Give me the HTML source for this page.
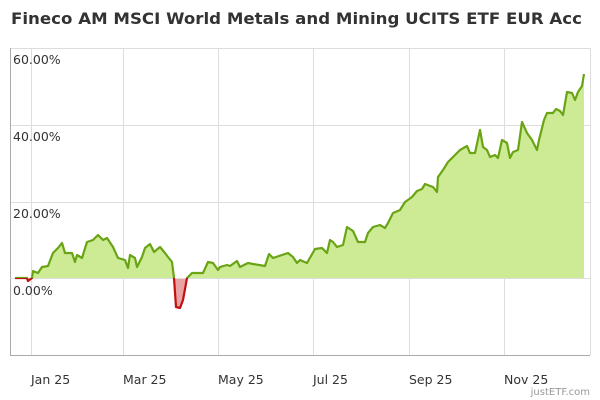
<!DOCTYPE html>
<html><head><meta charset="utf-8"><style>
html,body{margin:0;padding:0;background:#fff;}
svg{display:block;font-family:"DejaVu Sans","Liberation Sans",sans-serif;}
</style></head><body>
<svg width="600" height="400" viewBox="0 0 600 400">
<text x="11" y="24" font-size="16" font-weight="bold" fill="#333" textLength="571" lengthAdjust="spacingAndGlyphs">Fineco AM MSCI World Metals and Mining UCITS ETF EUR Acc</text>
<g stroke="#ddd" stroke-width="1">
<line x1="10" y1="48.5" x2="590" y2="48.5"/>
<line x1="10" y1="125.5" x2="590" y2="125.5"/>
<line x1="10" y1="202.5" x2="590" y2="202.5"/>
<line x1="31.5" y1="48" x2="31.5" y2="355"/>
<line x1="123.5" y1="48" x2="123.5" y2="355"/>
<line x1="218.5" y1="48" x2="218.5" y2="355"/>
<line x1="313.5" y1="48" x2="313.5" y2="355"/>
<line x1="409.5" y1="48" x2="409.5" y2="355"/>
<line x1="504.5" y1="48" x2="504.5" y2="355"/>
<line x1="590.5" y1="48" x2="590.5" y2="355"/>
</g>
<line x1="10.5" y1="48" x2="10.5" y2="355" stroke="#aaa"/>
<line x1="10" y1="355.5" x2="590" y2="355.5" stroke="#aaa"/>
<defs>
<clipPath id="up"><rect x="0" y="0" width="600" height="278"/></clipPath>
<clipPath id="dn"><rect x="0" y="278" width="600" height="122"/></clipPath>
</defs>
<g id="d">
</g>
<polygon clip-path="url(#up)" fill="#cdeb94" points="15,278 27,278 28,281 32,278 33,271 38,273 42,267 48,266 53,253 58,248 62,243 65,253 72,253 75,262 77,255 82,258 87,242 93,240 98,235 103,240 107,238 113,247 118,258 125,260 128,268 130,255 135,258 137,267 142,257 145,248 150,244 154,252 160,247 165,253 168,257 172,262 174,278 176,307 180,308 183,300 187,278 192,273 203,273 208,262 213,263 218,270 220,267 227,265 230,266 237,261 240,267 248,263 253,264 265,266 269,254 273,258 282,255 288,253 293,257 297,263 300,260 307,263 315,249 322,248 327,253 330,240 333,242 337,247 343,245 347,227 353,231 358,242 365,242 368,233 373,227 380,225 385,228 388,223 393,213 400,210 405,202 412,197 417,191 422,189 425,184 433,187 437,192 438,177 443,170 448,162 455,155 460,150 467,146 470,153 475,153 480,130 483,147 487,150 490,157 495,155 498,158 502,140 507,143 510,158 513,152 518,150 522,122 527,133 532,140 537,150 539,140 544,120 547,113 553,113 556,109 560,111 563,115 567,92 572,93 575,100 578,92 582,86 584,74 584,278"/>
<polygon clip-path="url(#dn)" fill="#e9a3a3" points="15,278 27,278 28,281 32,278 172,262 174,278 176,307 180,308 183,300 187,278"/>
<line x1="10" y1="278.5" x2="590" y2="278.5" stroke="#ddd"/>
<polyline id="ln" fill="none" stroke-width="2.2" stroke-linejoin="round" points="15,278 27,278 28,281 32,278 33,271 38,273 42,267 48,266 53,253 58,248 62,243 65,253 72,253 75,262 77,255 82,258 87,242 93,240 98,235 103,240 107,238 113,247 118,258 125,260 128,268 130,255 135,258 137,267 142,257 145,248 150,244 154,252 160,247 165,253 168,257 172,262 174,278 176,307 180,308 183,300 187,278 192,273 203,273 208,262 213,263 218,270 220,267 227,265 230,266 237,261 240,267 248,263 253,264 265,266 269,254 273,258 282,255 288,253 293,257 297,263 300,260 307,263 315,249 322,248 327,253 330,240 333,242 337,247 343,245 347,227 353,231 358,242 365,242 368,233 373,227 380,225 385,228 388,223 393,213 400,210 405,202 412,197 417,191 422,189 425,184 433,187 437,192 438,177 443,170 448,162 455,155 460,150 467,146 470,153 475,153 480,130 483,147 487,150 490,157 495,155 498,158 502,140 507,143 510,158 513,152 518,150 522,122 527,133 532,140 537,150 539,140 544,120 547,113 553,113 556,109 560,111 563,115 567,92 572,93 575,100 578,92 582,86 584,74" stroke="#6aa414" clip-path="url(#up)"/>
<use href="#ln" stroke="#c01010" clip-path="url(#dn)"/>
<polyline fill="none" stroke="#c01010" stroke-width="2.2" stroke-linejoin="round" clip-path="url(#dn)" points="15,278 27,278 28,281 32,278 33,271 172,262 174,278 176,307 180,308 183,300 187,278 192,273"/>
<g font-size="12.5" fill="#333">
<text x="13" y="64">60.00%</text>
<text x="13" y="141">40.00%</text>
<text x="13" y="218">20.00%</text>
<text x="13" y="295">0.00%</text>
<text x="31" y="384">Jan 25</text>
<text x="123" y="384">Mar 25</text>
<text x="218" y="384">May 25</text>
<text x="313" y="384">Jul 25</text>
<text x="409" y="384">Sep 25</text>
<text x="504" y="384">Nov 25</text>
</g>
<text x="590" y="395" font-size="10" fill="#999" text-anchor="end">justETF.com</text>
</svg>
</body></html>
